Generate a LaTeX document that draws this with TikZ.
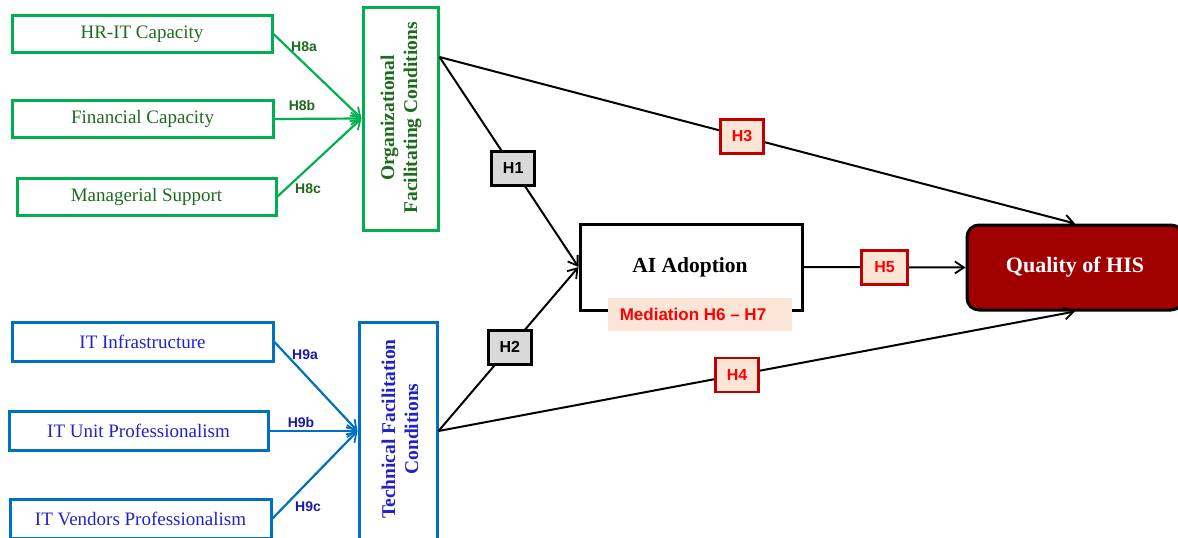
\documentclass[tikz,border=0pt]{standalone}
\usepackage{fontspec}
\setmainfont{Liberation Serif}
\newfontfamily\lsans{Liberation Sans}
\usetikzlibrary{arrows.meta,calc}
\definecolor{grn}{HTML}{00B050}
\definecolor{grntxt}{HTML}{1E6B1E}
\definecolor{blu}{HTML}{0070C0}
\definecolor{blutxt}{HTML}{2222C8}
\definecolor{blulab}{HTML}{1A1AA8}
\definecolor{hfill}{HTML}{FBE5D6}
\definecolor{hred}{HTML}{C00000}
\definecolor{qred}{HTML}{A00000}
\definecolor{gfill}{HTML}{D9D9D9}
\begin{document}
\begin{tikzpicture}[x=1pt,y=-1pt,
  gbox/.style={draw=grn,line width=3pt,text=grntxt,font=\fontsize{19}{23}\selectfont,inner sep=0pt,minimum height=37pt},
  bbox/.style={draw=blu,line width=3pt,text=blutxt,font=\fontsize{19}{23}\selectfont,inner sep=0pt,minimum height=39pt},
  vtext/.style={rotate=90,align=center,font=\bfseries\fontsize{19.5}{23}\selectfont},
  glab/.style={text=grntxt,font=\lsans\bfseries\fontsize{14}{16}\selectfont,inner sep=0pt},
  blab/.style={text=blulab,font=\lsans\bfseries\fontsize{14}{16}\selectfont,inner sep=0pt},
  hgray/.style={draw=black,line width=2.8pt,fill=gfill,minimum width=43pt,minimum height=34pt,inner sep=0pt,font=\lsans\bfseries\fontsize{16}{18}\selectfont},
  hredbox/.style={draw=hred,line width=2.8pt,fill=hfill,text=red,minimum width=43pt,minimum height=34pt,inner sep=0pt,font=\lsans\bfseries\fontsize{16}{18}\selectfont},
  tip/.style={-{Straight Barb[length=9pt,width=12pt,line width=1.8pt]}},
  conn/.style={draw=black,line width=2pt,tip},
  gconn/.style={draw=grn,line width=2.2pt,tip},
  bconn/.style={draw=blu,line width=2.2pt,tip}
]
\useasboundingbox (0,0) rectangle (1178,538);
% left green boxes
\node[gbox,minimum width=260pt] (hr) at (142,34) {HR-IT Capacity};
\node[gbox,minimum width=261pt] (fin) at (142.5,119) {Financial Capacity};
\node[gbox,minimum width=259pt] (man) at (146.5,196.5) {Managerial Support};
% left blue boxes
\node[bbox,minimum width=261pt] (infra) at (142.5,342) {IT Infrastructure};
\node[bbox,minimum width=259pt] (unit) at (138.5,431) {IT Unit Professionalism};
\node[bbox,minimum width=261pt] (vend) at (140.5,518.5) {IT Vendors Professionalism};
% construct boxes
\node[draw=grn,line width=3pt,minimum width=75pt,minimum height=223pt,inner sep=0pt] (org) at (400.5,118.5) {};
\node[vtext,text=grntxt] (orgt) at (401,118) {Organizational\\Facilitating Conditions};
\node[draw=blu,line width=3pt,minimum width=78pt,minimum height=218pt,inner sep=0pt] (tech) at (398,431) {};
\node[vtext,text=blutxt] (techt) at (400,429) {Technical Facilitation\\Conditions};
% AI adoption
\node[draw=black,line width=3pt,minimum width=222pt,minimum height=86pt,inner sep=0pt] (ai) at (691,267) {};
\node[font=\bfseries\fontsize{21.5}{24}\selectfont,inner sep=0pt] (ait) at (690,267.5) {AI Adoption};
\fill[hfill] (608,298) rectangle (792,331);
\node[text=red,font=\lsans\bfseries\fontsize{17}{19}\selectfont,inner sep=0pt] (med) at (693,314) {Mediation H6 – H7};
% Quality of HIS
\node[draw=black,line width=3pt,fill=qred,rounded corners=12pt,minimum width=216pt,minimum height=85pt,inner sep=0pt,text=white,font=\bfseries\fontsize{22}{24}\selectfont] (qhis) at (1075,267.5) {Quality of HIS};
% green arrows
\draw[gconn] (hr.east) -- (org.west);
\draw[gconn] (fin.east) -- (org.west);
\draw[gconn] (man.east) -- (org.west);
\node[glab] (l8a) at (304,47) {H8a};
\node[glab] (l8b) at (302,105) {H8b};
\node[glab] (l8c) at (308,189) {H8c};
% blue arrows
\draw[bconn] (infra.east) -- (tech.west);
\draw[bconn] (unit.east) -- (tech.west);
\draw[bconn] (vend.east) -- (tech.west);
\node[blab] (l9a) at (305,355) {H9a};
\node[blab] (l9b) at (301,422) {H9b};
\node[blab] (l9c) at (308,507) {H9c};
% main paths
\coordinate (orgout) at ([yshift=61.5pt]org.east);
\draw[conn] (orgout) -- (ai.west) node[hgray,pos=0.53] (h1) {H1};
\draw[conn] (tech.east) -- (ai.west) node[hgray,pos=0.51] (h2) {H2};
\draw[conn] (orgout) -- (qhis.north) node[hredbox,pos=0.476] (h3) {H3};
\draw[conn] (tech.east) -- (qhis.south) node[hredbox,pos=0.469] (h4) {H4};
\draw[conn] (ai.east) -- (qhis.west) node[hredbox,pos=0.5,minimum width=46pt] (h5) {H5};
\end{tikzpicture}
\end{document}
